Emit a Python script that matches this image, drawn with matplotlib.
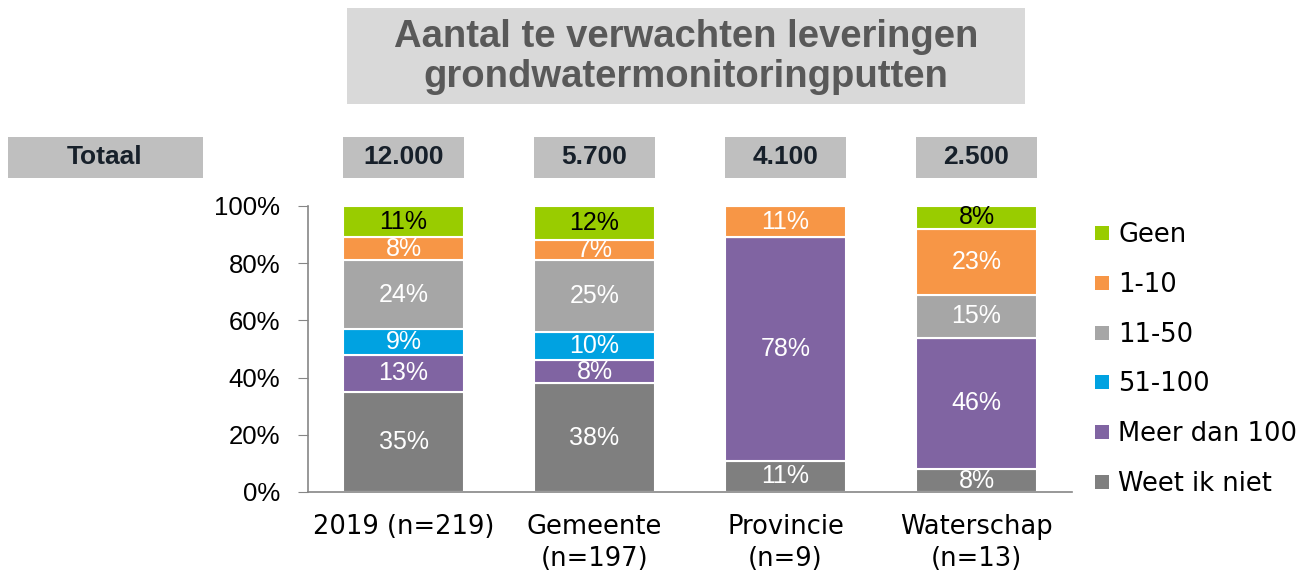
import numpy as np
import matplotlib
matplotlib.use("Agg")
import matplotlib.pyplot as plt
from matplotlib.patches import Rectangle
from matplotlib.lines import Line2D
import matplotlib.transforms as mtransforms

categories = ["2019 (n=219)", "Gemeente\n(n=197)", "Provincie\n(n=9)", "Waterschap\n(n=13)"]
totals = ["12.000", "5.700", "4.100", "2.500"]

# stacked from bottom to top
series = ["Weet ik niet", "Meer dan 100", "51-100", "11-50", "1-10", "Geen"]
weet_ik_niet = [35, 38, 11, 8]
meer_dan_100 = [13, 8, 78, 46]
v51_100 = [9, 10, 0, 0]
v11_50 = [24, 25, 0, 15]
v1_10 = [8, 7, 11, 23]
geen = [11, 12, 0, 8]

colors = ["#7f7f7f", "#8064a2", "#00a2e1", "#a6a6a6", "#f79646", "#99cc00"]
label_colors = ["white", "white", "white", "white", "white", "black"]

values = [weet_ik_niet, meer_dan_100, v51_100, v11_50, v1_10, geen]

fig = plt.figure(figsize=(13.03, 5.73), dpi=100)
ax = fig.add_axes([0.2364, 0.1414, 0.5863, 0.4991])

x = np.arange(len(categories))
bottom = np.zeros(len(categories))
for name, vals, col, lc in zip(series, values, colors, label_colors):
    vals = np.array(vals) / 100.0
    ax.bar(x, vals, 0.63, bottom=bottom, color=col, edgecolor="white",
           linewidth=1.5, label=name)
    for xi, v, b in zip(x, vals, bottom):
        if v > 0:
            ax.text(xi, b + v / 2, f"{round(v * 100)}%", ha="center", va="center",
                    color=lc, fontsize=18, family="Liberation Sans")
    bottom += vals

ax.set_xlim(-0.5, 3.5)
ax.set_ylim(0, 1)
ax.set_yticks(np.arange(0, 1.01, 0.2))
ax.set_yticklabels([f"{int(t * 100)}%" for t in np.arange(0, 1.01, 0.2)],
                   fontsize=18.5, family="Liberation Sans")
ax.set_xticks(x)
ax.set_xticklabels(categories, fontsize=18.5, family="DejaVu Sans", linespacing=1.3)
ax.tick_params(axis="x", length=0, pad=16)
ax.tick_params(axis="y", length=7, color="#868686", pad=13)
for s in ["top", "right"]:
    ax.spines[s].set_visible(False)
for s in ["left", "bottom"]:
    ax.spines[s].set_color("#868686")
    ax.spines[s].set_linewidth(1.2)

# legend (top to bottom: Geen ... Weet ik niet)
handles = [Line2D([], [], marker="s", linestyle="none", markersize=10,
                  markerfacecolor=c, markeredgewidth=0) for c in colors[::-1]]
fig.legend(handles, series[::-1], loc="upper left", bbox_to_anchor=(0.8395, 0.613),
           frameon=False, prop={"family": "DejaVu Sans", "size": 18.5},
           handlelength=0.6, handletextpad=0.35, labelspacing=0.93,
           borderaxespad=0, borderpad=0)

# title box
fig.patches.append(Rectangle((0.2663, 0.8185), 0.5203, 0.1675, transform=fig.transFigure,
                             facecolor="#d9d9d9", edgecolor="none"))
fig.text(0.5265, 0.9, "Aantal te verwachten leveringen\ngrondwatermonitoringputten",
         ha="center", va="center", fontsize=27.5, fontweight="bold",
         family="Liberation Sans", color="#595959", linespacing=1.15)

# totals row
fig.patches.append(Rectangle((8 / 1303, 1 - 178 / 573), 195 / 1303, 41 / 573,
                             transform=fig.transFigure, facecolor="#bfbfbf",
                             edgecolor="none"))
fig.text(105 / 1303, 1 - 157.5 / 573, "Totaal", ha="center", va="center",
         fontsize=19, fontweight="bold", family="Liberation Sans", color="#17202a")
trans = mtransforms.blended_transform_factory(ax.transData, fig.transFigure)
for xi, t in zip(x, totals):
    ax.add_patch(Rectangle((xi - 0.315, 1 - 178 / 573), 0.63, 41 / 573, transform=trans,
                           facecolor="#bfbfbf", edgecolor="none", clip_on=False))
    ax.text(xi, 1 - 157.5 / 573, t, transform=trans, ha="center", va="center",
            fontsize=19, fontweight="bold", family="Liberation Sans", color="#17202a")

fig.savefig("out.png", dpi=100)
